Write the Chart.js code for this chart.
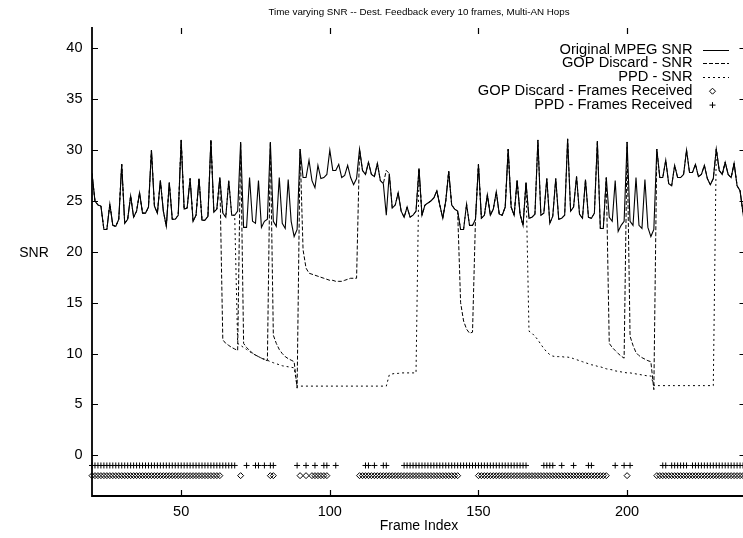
<!DOCTYPE html>
<html><head><meta charset="utf-8">
<script src="https://cdn.jsdelivr.net/npm/chart.js@4.4.0/dist/chart.umd.min.js"></script>
<style>
html,body{margin:0;padding:0;background:#fff;overflow:hidden;width:743px;height:538px;}
canvas{display:block;}
</style></head><body>
<canvas id="c" width="760" height="538"></canvas>
<script>
const chartTitle = 'Time varying SNR -- Dest. Feedback every 10 frames, Multi-AN Hops';
const xLabel = 'Frame Index';
const yLabel = 'SNR';
const seriesNames = ['Original MPEG SNR','GOP Discard - SNR','PPD - SNR','GOP Discard - Frames Received','PPD - Frames Received'];
const firstFrame = 20;
const xTicks = [50,100,150,200];
const yTicks = [0,5,10,15,20,25,30,35,40];

const originalSNR = [27.7,25.0,24.6,24.5,22.2,22.2,24.7,22.6,22.5,23.2,
28.6,22.8,23.2,25.5,23.4,24.0,25.8,23.8,23.8,24.4,
30.0,24.5,23.8,27.0,24.0,22.5,26.8,23.2,23.2,23.6,
31.0,24.2,24.3,27.2,23.0,23.6,27.2,23.1,23.1,23.5,
31.0,23.9,24.2,27.3,23.8,23.4,27.0,23.6,23.6,24.0,
30.8,22.4,22.4,27.3,23.0,22.8,27.0,22.4,23.0,23.2,
30.8,23.0,22.5,27.3,22.8,22.3,27.1,23.0,21.5,22.2,
30.1,27.3,27.3,29.0,27.0,26.3,28.5,27.2,27.3,27.6,
30.0,28.0,28.0,28.6,27.3,27.5,28.5,27.3,26.6,27.2,
30.1,28.0,27.6,28.8,27.6,27.4,28.7,27.0,26.7,23.6,
27.7,24.3,24.6,25.8,24.0,23.4,24.4,23.4,23.6,24.0,
28.2,23.6,24.6,24.8,25.0,25.3,26.0,24.6,23.3,25.0,
27.9,24.6,24.2,24.0,22.2,22.2,24.7,22.6,22.6,23.2,
28.6,23.3,23.6,25.6,23.6,24.2,25.9,23.7,23.6,24.4,
30.1,24.4,23.6,27.0,23.7,22.6,26.8,23.3,23.4,23.7,
31.0,23.6,23.8,27.2,22.8,23.5,27.2,23.2,23.3,23.6,
31.1,24.0,24.4,27.4,23.7,23.3,27.1,23.4,23.3,23.8,
30.9,22.3,22.3,27.3,23.4,23.0,27.0,22.0,22.6,23.0,
30.8,23.0,22.6,27.3,22.6,22.3,27.1,22.4,21.5,22.2,
30.1,27.3,27.3,29.0,26.7,26.5,28.5,27.3,27.3,27.6,
30.0,27.8,27.8,28.6,27.4,27.6,28.5,27.2,26.6,27.2,
30.1,28.0,27.6,28.8,27.6,27.3,28.7,26.5,26.0,23.8,
27.7];

const gopSNR = [27.7,25.0,24.6,24.5,22.2,22.2,24.7,22.6,22.5,23.2,
28.6,22.8,23.2,25.5,23.4,24.0,25.8,23.8,23.8,24.4,
30.0,24.5,23.8,27.0,24.0,22.5,26.8,23.2,23.2,23.6,
31.0,24.2,24.3,27.2,23.0,23.6,27.2,23.1,23.1,23.5,
31.0,23.9,24.2,27.3,11.35,11.0,10.8,10.6,10.45,10.3,
30.8,11.0,10.6,10.3,10.05,9.85,9.7,9.55,9.4,9.3,
30.8,11.8,11.0,10.4,10.0,9.7,9.5,9.35,9.2,6.6,
30.1,20.2,18.4,17.9,17.8,17.7,17.6,17.5,17.4,17.3,
17.2,17.2,17.1,17.1,17.1,17.2,17.3,17.4,17.4,17.4,
30.1,28.0,27.6,28.8,27.6,27.4,28.7,27.0,26.7,28.0,
27.7,24.3,24.6,25.8,24.0,23.4,24.4,23.4,23.6,24.0,
28.2,23.6,24.6,24.8,25.0,25.3,26.0,24.6,23.3,25.0,
27.9,24.6,24.2,24.0,15.0,13.2,12.4,12.0,12.1,23.2,
28.6,23.3,23.6,25.6,23.6,24.2,25.9,23.7,23.6,24.4,
30.1,24.4,23.6,27.0,23.7,22.6,26.8,23.3,23.4,23.7,
31.0,23.6,23.8,27.2,22.8,23.5,27.2,23.2,23.3,23.6,
31.1,24.0,24.4,27.4,23.7,23.3,27.1,23.4,23.3,23.8,
30.9,22.3,22.3,27.3,11.0,10.6,10.3,10.0,9.75,9.55,
30.8,11.7,10.8,10.1,9.8,9.6,9.45,9.3,9.2,6.45,
30.1,27.3,27.3,29.0,26.7,26.5,28.5,27.3,27.3,27.6,
30.0,27.8,27.8,28.6,27.4,27.6,28.5,27.2,26.6,27.2,
30.1,28.0,27.6,28.8,27.6,27.3,28.7,26.5,26.0,23.8,
27.7];

const ppdSNR = [27.7,25.0,24.6,24.5,22.2,22.2,24.7,22.6,22.5,23.2,
28.6,22.8,23.2,25.5,23.4,24.0,25.8,23.8,23.8,24.4,
30.0,24.5,23.8,27.0,24.0,22.5,26.8,23.2,23.2,23.6,
31.0,24.2,24.3,27.2,23.0,23.6,27.2,23.1,23.1,23.5,
31.0,23.9,24.2,27.3,23.8,23.4,27.0,23.6,23.6,11.0,
10.8,10.6,10.4,10.2,10.0,9.85,9.7,9.55,9.45,9.35,
9.2,9.1,9.0,8.9,8.8,8.75,8.7,8.65,8.6,6.8,
6.8,6.8,6.8,6.8,6.8,6.8,6.8,6.8,6.8,6.8,
6.8,6.8,6.8,6.8,6.8,6.8,6.8,6.8,6.8,6.8,
6.8,6.8,6.8,6.8,6.8,6.8,6.8,6.8,6.8,6.8,
7.9,8.0,8.05,8.05,8.1,8.1,8.1,8.1,8.1,8.1,
28.2,23.6,24.6,24.8,25.0,25.3,26.0,24.6,23.3,25.0,
27.9,24.6,24.2,24.0,22.2,22.2,24.7,22.6,22.6,23.2,
28.6,23.3,23.6,25.6,23.6,24.2,25.9,23.7,23.6,24.4,
30.1,24.4,23.6,27.0,23.7,22.6,26.8,12.2,12.0,11.7,
11.35,10.9,10.5,10.15,9.9,9.75,9.7,9.7,9.7,9.65,
9.65,9.6,9.5,9.4,9.3,9.2,9.1,9.0,8.9,8.85,
8.75,8.7,8.6,8.5,8.45,8.4,8.3,8.25,8.2,8.15,
8.1,8.1,8.05,8.0,7.95,7.9,7.85,7.8,7.8,6.9,
6.85,6.85,6.85,6.85,6.85,6.85,6.85,6.85,6.85,6.85,
6.85,6.85,6.85,6.85,6.85,6.85,6.85,6.85,6.85,6.85,
30.1,28.0,27.6,28.8,27.6,27.3,28.7,26.5,26.0,23.8,
27.7];

// runs of received frames [first, last]
const gopReceivedRuns = [[20,63],[70,70],[80,81],[90,90],[92,92],[94,99],[110,143],[150,193],[200,200],[210,240]];
const ppdReceivedRuns = [[20,68],[72,72],[75,76],[78,78],[80,81],[89,89],[92,92],[95,95],[98,99],[102,102],[112,113],[115,115],[118,119],[125,166],[172,175],[178,178],[182,182],[187,188],[196,196],[199,199],[201,201],[212,213],[215,220],[222,240]];
const gopReceivedLevel = -2;
const ppdReceivedLevel = -1;

const FONT = "'Liberation Sans', Arial, Helvetica, sans-serif";
const toPts = arr => arr.map((v,i)=>({x:firstFrame+i, y:v}));
const runsToPts = (runs, level) => { const p=[]; runs.forEach(([a,b])=>{ for(let f=a; f<=b; f++) p.push({x:f, y:level}); }); return p; };

const DASH = [4,2], DOT = [2,3];

const framePlugin = {
  id:'frame',
  afterDraw(chart){
    const {ctx, chartArea:{left,right,top,bottom}, scales:{x,y}} = chart;
    ctx.save();
    ctx.strokeStyle = '#000'; ctx.setLineDash([]);
    const L = Math.round(left), R = Math.round(right)-0.5, T = Math.round(top)-1, B = Math.round(bottom);
    // left and bottom axis lines
    ctx.lineWidth = 1.8;
    ctx.beginPath();
    ctx.moveTo(L,T); ctx.lineTo(L,B); ctx.lineTo(R+1,B);
    ctx.stroke();
    // inward ticks, mirrored on top and right
    ctx.lineWidth = 1.2;
    ctx.beginPath();
    xTicks.forEach(v=>{ const px = Math.round(x.getPixelForValue(v))+0.5; ctx.moveTo(px,B); ctx.lineTo(px,B-6); ctx.moveTo(px,T+1); ctx.lineTo(px,T+7); });
    yTicks.forEach(v=>{ const py = Math.round(y.getPixelForValue(v))+0.5; ctx.moveTo(L,py); ctx.lineTo(L+6,py); ctx.moveTo(R,py); ctx.lineTo(R-6,py); });
    ctx.stroke();

    ctx.fillStyle = '#000';
    ctx.textAlign = 'center'; ctx.textBaseline = 'middle';
    ctx.font = '9.8px ' + FONT;
    ctx.fillText(chartTitle, (left+right)/2, 12);
    ctx.font = '14px ' + FONT;
    ctx.fillText(xLabel, (left+right)/2, 526);
    ctx.fillText(yLabel, 34, 253);

    // legend
    ctx.font = '14.7px ' + FONT;
    ctx.textAlign = 'right';
    ctx.lineWidth = 1;
    const styles = [[], DASH, DOT, 'diamond', 'plus'];
    seriesNames.forEach((name,i)=>{
      const ry = 49.5 + 13.9*i;
      ctx.fillText(name, 692.5, ry);
      const st = styles[i];
      ctx.beginPath();
      if (Array.isArray(st)) {
        ctx.setLineDash(st);
        ctx.moveTo(703, Math.round(ry)+0.5); ctx.lineTo(729, Math.round(ry)+0.5);
      } else if (st === 'diamond') {
        ctx.setLineDash([]);
        ctx.moveTo(709.5,ry); ctx.lineTo(712.5,ry-3); ctx.lineTo(715.5,ry); ctx.lineTo(712.5,ry+3); ctx.closePath();
      } else {
        ctx.setLineDash([]);
        ctx.moveTo(709.5,ry); ctx.lineTo(715.5,ry); ctx.moveTo(712.5,ry-3); ctx.lineTo(712.5,ry+3);
      }
      ctx.stroke();
    });
    ctx.restore();
  }
};

new Chart(document.getElementById('c').getContext('2d'), {
  type:'line',
  data:{datasets:[
    {label:seriesNames[0], data:toPts(originalSNR), borderColor:'#000', borderWidth:1.1, pointRadius:0, tension:0, fill:false},
    {label:seriesNames[1], data:toPts(gopSNR), borderColor:'#000', borderWidth:1, borderDash:DASH, pointRadius:0, tension:0, fill:false},
    {label:seriesNames[2], data:toPts(ppdSNR), borderColor:'#000', borderWidth:1, borderDash:DOT, pointRadius:0, tension:0, fill:false},
    {label:seriesNames[3], data:runsToPts(gopReceivedRuns, gopReceivedLevel), showLine:false, pointStyle:'rectRot', pointRadius:3, borderColor:'#000', borderWidth:1, backgroundColor:'rgba(0,0,0,0)', clip:false},
    {label:seriesNames[4], data:runsToPts(ppdReceivedRuns, ppdReceivedLevel), showLine:false, pointStyle:'cross', pointRadius:3, borderColor:'#000', borderWidth:1, backgroundColor:'rgba(0,0,0,0)', clip:false}
  ]},
  options:{
    responsive:false, animation:false, devicePixelRatio:1,
    layout:{padding:{left:0, right:14, top:28, bottom:0}},
    plugins:{legend:{display:false}, tooltip:{enabled:false}, title:{display:false}},
    elements:{point:{hoverRadius:0}},
    scales:{
      x:{type:'linear', min:20, max:240,
         grid:{display:false, drawTicks:false}, border:{display:false},
         afterBuildTicks:s=>{ s.ticks = xTicks.map(v=>({value:v})); },
         afterFit:s=>{ s.height = 42; },
         ticks:{font:{family:FONT, size:14.5}, color:'#000', padding:7, maxRotation:0, autoSkip:false}},
      y:{type:'linear', min:-4, max:42,
         grid:{display:false, drawTicks:false}, border:{display:false},
         afterBuildTicks:s=>{ s.ticks = yTicks.map(v=>({value:v})); },
         afterFit:s=>{ s.width = 92; },
         ticks:{font:{family:FONT, size:14.5}, color:'#000', padding:9.5, autoSkip:false}}
    }
  },
  plugins:[framePlugin]
});
</script>
</body></html>
